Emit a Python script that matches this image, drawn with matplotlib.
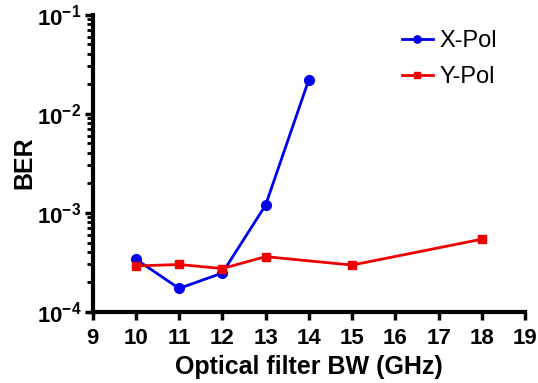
import numpy as np
import matplotlib.pyplot as plt
from matplotlib.ticker import LogLocator, NullFormatter

# данные
x_pol_bw = [10, 11, 12, 13, 14]
x_pol_ber = [3.4e-4, 1.72e-4, 2.46e-4, 1.19e-3, 2.2e-2]
y_pol_bw = [10, 11, 12, 13, 15, 18]
y_pol_ber = [2.9e-4, 3.0e-4, 2.73e-4, 3.6e-4, 2.96e-4, 5.4e-4]
x_ticks = list(range(9, 20))

plt.rcParams['font.family'] = ['Liberation Sans', 'DejaVu Sans']

fig = plt.figure(figsize=(5.38, 3.83), dpi=100)
ax = fig.add_axes([0.172, 0.186, 0.804, 0.776])

ax.plot(x_pol_bw, x_pol_ber, color='#0000ee', marker='o', markersize=7,
        linewidth=2, label='X-Pol')
ax.plot(y_pol_bw, y_pol_ber, color='#ee0000', marker='s', markersize=6,
        linewidth=2, label='Y-Pol')

ax.set_yscale('log')
ax.set_ylim(1e-4, 1e-1)
ax.set_xlim(9, 19)
ax.set_xticks(x_ticks)
ax.yaxis.set_minor_locator(LogLocator(base=10, subs=np.arange(2, 10)))
ax.yaxis.set_minor_formatter(NullFormatter())

for s in ['top', 'right']:
    ax.spines[s].set_visible(False)
for s in ['left', 'bottom']:
    ax.spines[s].set_linewidth(3)

ax.tick_params(which='major', direction='out', length=6, width=2.5,
               labelsize=16, pad=6)
ax.tick_params(axis='y', which='major', pad=2)
ax.tick_params(which='minor', direction='out', length=4, width=2)
for lbl in ax.get_xticklabels() + ax.get_yticklabels():
    lbl.set_fontweight('bold')

ax.set_xlabel('Optical filter BW (GHz)', fontsize=18, fontweight='bold',
              labelpad=4)
ax.set_ylabel('BER', fontsize=18, fontweight='bold', labelpad=0)

ax.legend(loc='upper right', frameon=False, fontsize=17, handlelength=1.3,
          handletextpad=0.3, labelspacing=0.6, markerscale=0.75,
          bbox_to_anchor=(0.985, 1.02))

fig.savefig('out.png', dpi=100)
